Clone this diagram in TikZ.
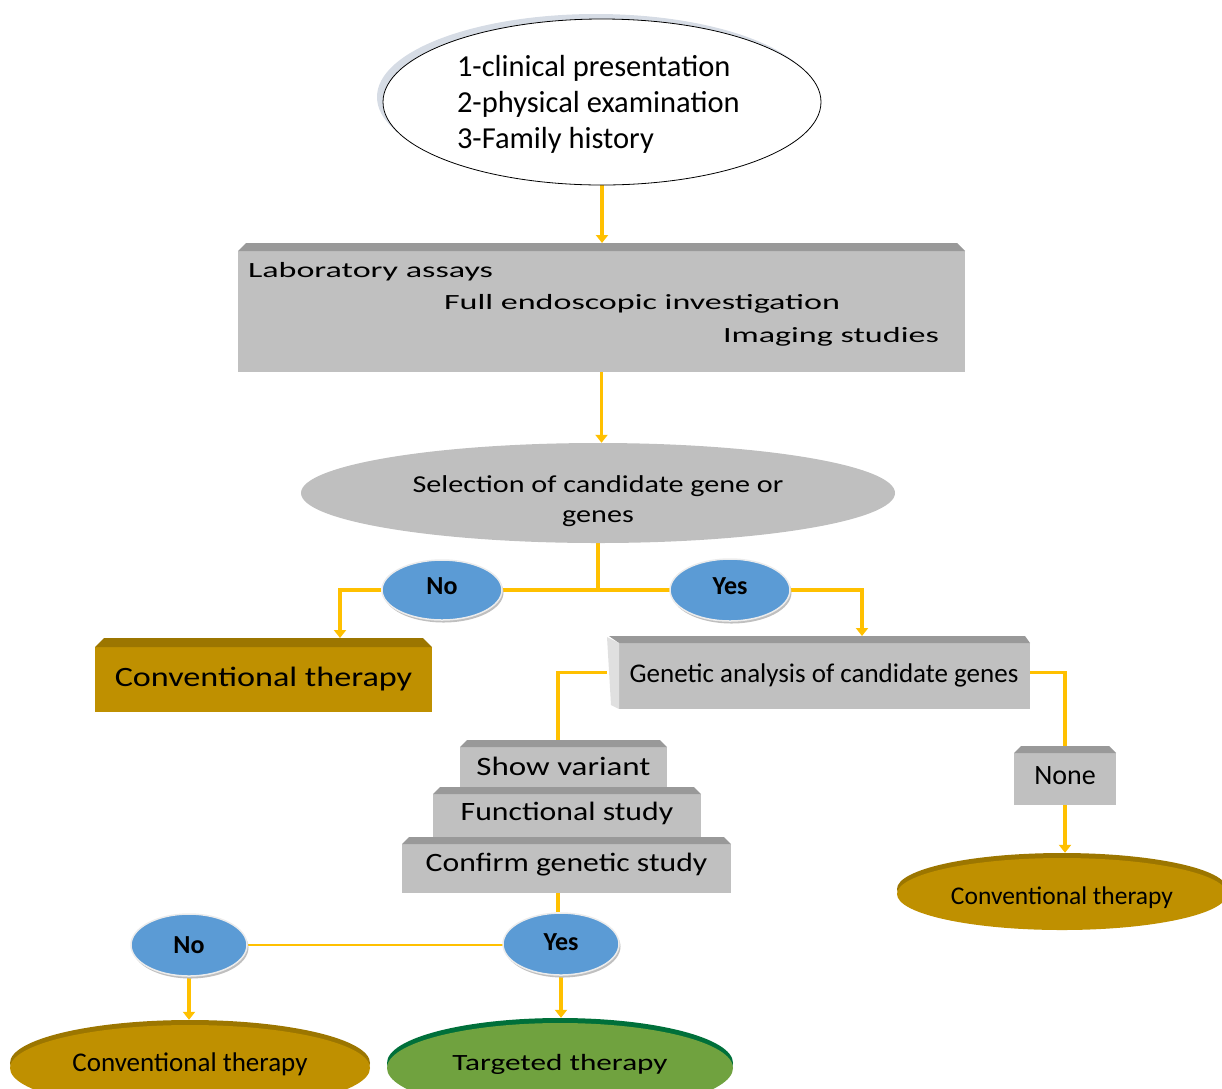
\documentclass[tikz,border=0pt]{standalone}
\usepackage{fontspec}
\setmainfont{Carlito}
\usepackage{graphicx}
\usetikzlibrary{shapes.geometric,arrows.meta,shadows,backgrounds}
\definecolor{orangeC}{HTML}{FFC000}
\definecolor{boxgray}{HTML}{C0C0C0}
\definecolor{bandgray}{HTML}{999999}
\definecolor{faceL}{HTML}{E0E0E0}
\definecolor{oliveC}{HTML}{BF9000}
\definecolor{oliveD}{HTML}{9C7600}
\definecolor{greenC}{HTML}{70A23F}
\definecolor{greenD}{HTML}{00703A}
\definecolor{blueC}{HTML}{5B9BD5}
\definecolor{shadowblue}{HTML}{D6DCE5}
\definecolor{selgray}{HTML}{BFBFBF}
\newcommand\fs[2]{\fontsize{#1}{#2}\selectfont}
\newcommand\sx[2]{\scalebox{#1}[1]{#2}}
\newcommand\rb[2]{\raisebox{#1}[\height][\depth]{#2}}
\newcommand\bevelfill[4]{% name, body, band, depth
  \fill[#2] ([yshift=-#4]#1.north west) rectangle (#1.south east);
  \fill[#3] ([yshift=-#4]#1.north west) -- ([xshift=#4]#1.north west) -- ([xshift=-#4]#1.north east) -- ([yshift=-#4]#1.north east) -- cycle;}
\begin{document}
\begin{tikzpicture}[x=1pt,y=-1pt,
  conn/.style={draw=orangeC,line width=3.5pt},
  arr/.style={conn,-{Triangle[width=12pt,length=8pt]}},
  thinconn/.style={draw=orangeC,line width=2pt},
  boxn/.style={rectangle,inner sep=0pt,outer sep=0pt},
  blueell/.style={ellipse,fill=blueC,draw=white!85!gray,line width=1.5pt,inner sep=0pt,
    general shadow={fill=gray!50,shadow xshift=1.5pt,shadow yshift=-2.5pt},font=\fs{26}{30}\bfseries},
  oliveell/.style={ellipse,fill=oliveC,inner sep=0pt,general shadow={fill=oliveD,shadow yshift=5pt}},
  greenell/.style={ellipse,fill=greenC,inner sep=0pt,general shadow={fill=greenD,shadow yshift=5pt}},
  txt/.style={inner sep=0pt,outer sep=0pt}]
\useasboundingbox (0,0) rectangle (1222,1088);
\clip (0,0) rectangle (1222,1088);

% nodes
\node[ellipse,draw=black,line width=0.8pt,fill=white,minimum width=438pt,minimum height=166pt,
  general shadow={fill=shadowblue,shadow xshift=-6pt,shadow yshift=5pt},inner sep=0pt] (top) at (602,102) {};
\node[txt,anchor=base west,align=left,font=\fs{30.5}{36}] (topT) at (457,148)
  {1-clinical presentation\\2-physical examination\\3-Family history};

\node[boxn,minimum width=727pt,minimum height=129pt] (lab) at (601.5,307.5) {};
\node[txt,anchor=base west,font=\fs{21.7}{26}] (labA) at (248,277) {\sx{1.57}{Laboratory assays}};
\node[txt,anchor=base west,font=\fs{21.7}{26}] (labB) at (444,309) {\sx{1.57}{Full endoscopic investigation}};
\node[txt,anchor=base west,font=\fs{21.7}{26}] (labC) at (723,342) {\sx{1.57}{Imaging studies}};

\node[ellipse,fill=selgray,minimum width=594pt,minimum height=100pt,inner sep=0pt] (sel) at (598,493) {};
\node[txt,align=center,font=\fs{24.3}{30}] (selT) at (598,501)
  {\sx{1.24}{Selection of candidate gene or}\\\sx{1.24}{genes}};

\node[blueell,minimum width=120pt,minimum height=60pt] (no1) at (442,590) {\rb{4pt}{No}};
\node[blueell,minimum width=120pt,minimum height=62pt] (yes1) at (730,590) {\rb{4pt}{Yes}};

\node[boxn,minimum width=337pt,minimum height=74pt,font=\fs{28}{32}] (conv1) at (263.5,675)
  {\rb{-4pt}{\sx{1.22}{Conventional therapy}}};
\node[boxn,minimum width=423pt,minimum height=73pt,font=\fs{27}{32}] (gen) at (818.5,672.5)
  {\rb{-3pt}{\hspace*{11pt}Genetic analysis of candidate genes}};

\node[boxn,minimum width=207pt,minimum height=47pt,font=\fs{26.5}{30}] (show) at (563.5,763.5)
  {\rb{-3pt}{\sx{1.246}{Show variant}}};
\node[boxn,minimum width=268pt,minimum height=50pt,font=\fs{26.5}{30}] (func) at (567,812)
  {\rb{-1pt}{\sx{1.198}{Functional study}}};
\node[boxn,minimum width=329pt,minimum height=56pt,font=\fs{26.5}{30}] (conf) at (566.5,865)
  {\sx{1.196}{Confirm genetic study}};

\node[boxn,minimum width=102pt,minimum height=59pt,font=\fs{28}{32}] (none) at (1065,775.5) {None};
\node[oliveell,minimum width=330pt,minimum height=72pt,font=\fs{25.5}{30}] (conv2) at (1062,894)
  {\rb{-4pt}{Conventional therapy}};

\node[blueell,minimum width=116pt,minimum height=62pt] (no2) at (189,945) {No};
\node[blueell,minimum width=116pt,minimum height=62pt] (yes2) at (561,944) {\rb{2pt}{Yes}};

\node[oliveell,minimum width=360pt,minimum height=86pt,font=\fs{27}{30}] (conv3) at (190,1068)
  {\rb{4pt}{Conventional therapy}};
\node[greenell,minimum width=346pt,minimum height=90pt,font=\fs{23.3}{28}] (targ) at (560,1068)
  {\rb{4pt}{\sx{1.34}{Targeted therapy}}};

\coordinate (c1in) at (340,638);
\coordinate (g1in) at (862,636);
\coordinate (s1) at (558,740);
\coordinate (s2) at (558,893);

\begin{scope}[on background layer]
  \bevelfill{lab}{boxgray}{bandgray}{8pt}
  \bevelfill{conv1}{oliveC}{oliveD}{9pt}
  \bevelfill{show}{boxgray}{bandgray}{7pt}
  \bevelfill{func}{boxgray}{bandgray}{7pt}
  \bevelfill{conf}{boxgray}{bandgray}{7pt}
  \bevelfill{none}{boxgray}{bandgray}{7pt}
  % genetic box with left face
  \fill[boxgray] ([xshift=12pt,yshift=-7pt]gen.north west) rectangle (gen.south east);
  \fill[bandgray] ([xshift=12pt,yshift=-7pt]gen.north west) -- ([xshift=2pt]gen.north west)
     -- ([xshift=-5pt]gen.north east) -- ([yshift=-7pt]gen.north east) -- cycle;
  \fill[faceL] ([yshift=-1pt]gen.north west) -- ([xshift=12pt,yshift=-7pt]gen.north west)
     -- ([xshift=12pt]gen.south west) -- ([xshift=4pt,yshift=4pt]gen.south west) -- cycle;

  % connectors
  \draw[arr] (top.south) -- (top.south |- lab.north);
  \draw[arr] (lab.south) -- (lab.south |- sel.north);
  \draw[conn] (sel.south) -- (sel.south |- no1.center);
  \draw[conn] (no1.center) -- (yes1.center);
  \draw[arr] (no1.west) -| (c1in);
  \draw[arr] (yes1.east) -| (g1in);
  \draw[conn] (gen.west) -| (s1);
  \draw[conn] (gen.east) -| (none.north);
  \draw[arr] (none.south) -- ([yshift=5pt]none.south |- conv2.north);
  \draw[conn] (s2) -- (s2 |- yes2.north);
  \draw[thinconn] (no2.center) -- (no2.center -| yes2.center);
  \draw[arr] (no2.south) -- ([yshift=5pt]no2.south |- conv3.north);
  \draw[arr] (yes2.south) -- ([yshift=5pt]yes2.south |- targ.north);
\end{scope}
\end{tikzpicture}
\end{document}
